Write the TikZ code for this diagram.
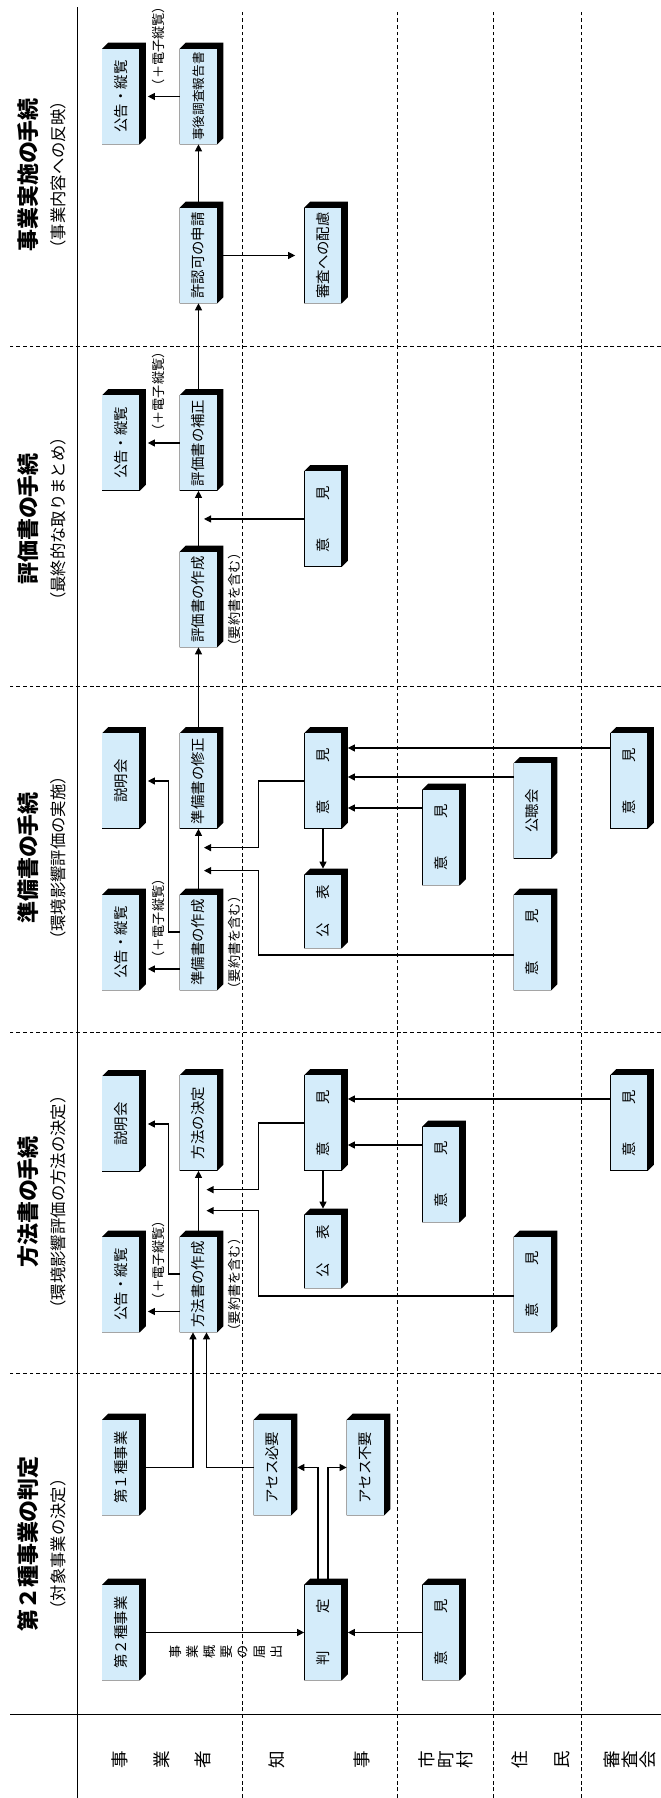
\documentclass[tikz,border=0pt]{standalone}
\usepackage{fontspec}
\setmainfont{Noto Sans CJK JP}
\usetikzlibrary{arrows.meta,backgrounds,calc}
\definecolor{azulcaixa}{RGB}{212,236,250}
\tikzset{
	caixa/.style={fill=azulcaixa, minimum width=1.9cm, minimum height=0.74cm, inner sep=0pt, font=\fontsize{8.2}{9}\selectfont},
	caixacurta/.style={caixa, minimum width=1.46cm},
	linha/.style={line width=0.6pt},
	tracejada/.style={line width=0.5pt, dash pattern=on 2.2pt off 1.6pt},
	seta/.style={->, line width=0.6pt},
	titulo/.style={font=\bfseries\fontsize{12.5}{14}\selectfont, inner sep=0pt},
	subtitulo/.style={font=\fontsize{9.3}{11}\selectfont, inner sep=0pt},
	nota/.style={font=\fontsize{7.5}{8}\selectfont, inner sep=0pt},
	raia/.style={align=center, inner sep=0pt}
}
\begin{document}
\begin{tikzpicture}[x=0.02cm, y=0.02cm, rotate=90, transform shape, >={Triangle[length=4pt,width=4pt]}] %Desenho deitado e girado
	\useasboundingbox (0,0) rectangle (1798,661);
		%Raias e etapas
	\draw[linha] (0,583.7) -- (1791,583.7);
	\foreach \y in {419,263.5,168,80} \draw[tracejada] (0,\y) -- (1789,\y);
	\draw[linha] (83.5,0) -- (83.5,651);
	\foreach \x in {425,766,1112,1452} \draw[tracejada] (\x,0) -- (\x,651);
		%Nomes das raias
	\node[raia, font=\fontsize{10}{23.5}\selectfont] (jigyosha) at (38,499.5) {事\\業\\者};
	\node[raia, font=\fontsize{10}{48}\selectfont] (chiji) at (38,341.5) {知\\事};
	\node[raia, font=\fontsize{10}{10.8}\selectfont] (shichoson) at (38,215) {市\\町\\村};
	\node[raia, font=\fontsize{10}{23.8}\selectfont] (jumin) at (38,120) {住\\民};
	\node[raia, font=\fontsize{10}{10.2}\selectfont] (shinsakai) at (38,31) {審\\査\\会};
		%Títulos
	\node[titulo] (t1) at (254,632.5) {第２種事業の判定};
	\node[subtitulo] (s1) at (254,603) {（対象事業の決定）};
	\node[titulo] (t2) at (596,632.5) {方法書の手続};
	\node[subtitulo] (s2) at (596,603) {（環境影響評価の方法の決定）};
	\node[titulo] (t3) at (940,632.5) {準備書の手続};
	\node[subtitulo] (s3) at (940,603) {（環境影響評価の実施）};
	\node[titulo] (t4) at (1279,632.5) {評価書の手続};
	\node[subtitulo] (s4) at (1279,603) {（最終的な取りまとめ）};
	\node[titulo] (t5) at (1623,632.5) {事業実施の手続};
	\node[subtitulo] (s5) at (1623,603) {（事業内容への反映）};
		%Caixas - 第２種事業の判定
	\node[caixa] (dai2) at (165.5,540) {第２種事業};
	\node[caixa] (hantei) at (165.5,338) {判\hspace{2.6em}定};
	\node[caixa] (ikenS1) at (165.5,220) {意\hspace{2.6em}見};
	\node[caixa] (dai1) at (330.5,540) {第１種事業};
	\node[caixa] (hitsuyo) at (330.5,388.5) {アセス必要};
	\node[caixa] (fuyo) at (330.5,295.5) {アセス不要};
		%Caixas - 方法書
	\node[caixa] (koku2) at (513.5,540) {公告・縦覧};
	\node[caixa] (hsakusei) at (513.5,462.5) {方法書の作成};
	\node[caixa] (setsu2) at (674,540) {説明会};
	\node[caixa] (hkettei) at (675,462.5) {方法の決定};
	\node[caixa] (ikenC2) at (675,338) {意\hspace{2.6em}見};
	\node[caixacurta] (kohyo2) at (546.5,338) {公\hspace{1.6em}表};
	\node[caixa] (ikenS2) at (623.5,220) {意\hspace{2.6em}見};
	\node[caixa] (ikenJ2) at (513.5,128.5) {意\hspace{2.6em}見};
	\node[caixa] (ikenK2) at (675,32) {意\hspace{2.6em}見};
		%Caixas - 準備書
	\node[caixa] (koku3) at (855.5,540) {公告・縦覧};
	\node[caixa] (jsakusei) at (855.5,462.5) {準備書の作成};
	\node[caixa] (setsu3) at (1017,540) {説明会};
	\node[caixa] (jshusei) at (1017,462.5) {準備書の修正};
	\node[caixa] (ikenC3) at (1017,338) {意\hspace{2.6em}見};
	\node[caixacurta] (kohyo3) at (886.5,338) {公\hspace{1.6em}表};
	\node[caixa] (ikenS3) at (960.5,220) {意\hspace{2.6em}見};
	\node[caixa] (kochokai) at (987,128.5) {公聴会};
	\node[caixa] (ikenJ3) at (855.5,128.5) {意\hspace{2.6em}見};
	\node[caixa] (ikenK3) at (1017,32) {意\hspace{2.6em}見};
		%Caixas - 評価書
	\node[caixa] (ysakusei) at (1198.5,462.5) {評価書の作成};
	\node[caixa] (hosei) at (1355,462.5) {評価書の補正};
	\node[caixa] (koku4) at (1355,540) {公告・縦覧};
	\node[caixa] (ikenC4) at (1279,338) {意\hspace{2.6em}見};
		%Caixas - 事業実施
	\node[caixa] (shinsei) at (1542.5,462.5) {許認可の申請};
	\node[caixa] (hairyo) at (1542.5,338) {審査への配慮};
	\node[caixa, font=\fontsize{7.2}{8}\selectfont] (jigo) at (1701.5,462.5) {事後調査報告書};
	\node[caixa] (koku5) at (1701.5,540) {公告・縦覧};
		%Sombras das caixas
	\begin{scope}[on background layer]
		\foreach \n in {dai2,hantei,ikenS1,dai1,hitsuyo,fuyo,koku2,hsakusei,setsu2,hkettei,ikenC2,kohyo2,ikenS2,ikenJ2,ikenK2,koku3,jsakusei,setsu3,jshusei,ikenC3,kohyo3,ikenS3,kochokai,ikenJ3,ikenK3,ysakusei,hosei,koku4,ikenC4,shinsei,hairyo,jigo,koku5}
			\fill (\n.north west) -- (\n.north east) -- ($(\n.north east)+(6,-6)$) -- ($(\n.south east)+(6,-6)$) -- ($(\n.south west)+(6,-6)$) -- (\n.south west) -- cycle;
	\end{scope}
		%Notas
	\node[raia, font=\fontsize{7.5}{9.6}\selectfont] (todokede) at (146,435) {事\\業\\概\\要\\の\\届\\出};
	\node[nota] (denshi2) at (538,503) {（＋電子縦覧）};
	\node[nota] (denshi3) at (879.5,503) {（＋電子縦覧）};
	\node[nota] (denshi4) at (1406.5,503) {（＋電子縦覧）};
	\node[nota] (denshi5) at (1752,503) {（＋電子縦覧）};
	\node[nota] (yoyaku2) at (513.5,427) {（要約書を含む）};
	\node[nota] (yoyaku3) at (855.5,427) {（要約書を含む）};
	\node[nota] (yoyaku4) at (1198.5,427) {（要約書を含む）};
		%Setas - 第２種事業の判定
	\draw[seta] (dai2.south) -- (hantei.north);
	\draw[seta] (ikenS1.north) -- ($(hantei.south)+(0,-6)$);
	\draw[seta] ($(hantei.east)+(0,5)$) -| ($(hitsuyo.south)+(0,-6)$);
	\draw[seta] ($(hantei.east)+(0,-5)$) -| (fuyo.north);
	\draw[seta] (dai1.south) |- ($(hsakusei.west)+(0,5.5)$);
	\draw[seta] (hitsuyo.north) |- ($(hsakusei.west)+(0,-8)$);
		%Setas - 方法書
	\draw[seta] ($(hsakusei.north)+(-27,0)$) -- ($(koku2.south)+(-27,-8)$);
	\draw[seta] ($(hsakusei.north)+(10.5,0)$) -- ++(0,11) -| ($(setsu2.south)+(0,-8)$);
	\draw[seta] (hsakusei.east) -- (hkettei.west);
	\draw[seta] (ikenC2.north) -- ++(0,45.5) -| ($(hsakusei.east)+(47,-8)$);
	\draw[seta] ($(ikenJ2.north)+(-11.5,0)$) -- ++(0,255) -| ($(hsakusei.east)+(26,-8)$);
	\draw[seta] (ikenC2.west) -- ($(kohyo2.east)+(6,0)$);
	\draw[seta] ($(ikenS2.north)+(29.5,0)$) -- ($(ikenS2.north |- ikenC2.south)+(29.5,-6)$);
	\draw[seta] ($(ikenK2.north)+(24,0)$) -- ($(ikenK2.north |- ikenC2.south)+(24,-6)$);
		%Setas - 準備書
	\draw[seta] ($(jsakusei.north)+(-26.5,0)$) -- ($(koku3.south)+(-26.5,-8)$);
	\draw[seta] ($(jsakusei.north)+(10.5,0)$) -- ++(0,11) -| ($(setsu3.south)+(0,-8)$);
	\draw[seta] (jsakusei.east) -- (jshusei.west);
	\draw[seta] (ikenC3.north) -- ++(0,45.5) -| ($(jsakusei.east)+(47,-5.5)$);
	\draw[seta] ($(ikenJ3.north)+(-12.5,0)$) -- ++(0,255) -| ($(jsakusei.east)+(24,-5.5)$);
	\draw[seta] (ikenC3.west) -- ($(kohyo3.east)+(6,0)$);
	\draw[seta] ($(ikenS3.north)+(29.5,0)$) -- ($(ikenS3.north |- ikenC3.south)+(29.5,-6)$);
	\draw[seta] ($(kochokai.north)+(34,0)$) -- ($(kochokai.north |- ikenC3.south)+(34,-6)$);
	\draw[seta] ($(ikenK3.north)+(33,0)$) -- ($(ikenK3.north |- ikenC3.south)+(33,-6)$);
	\draw[seta] (jshusei.east) -- (ysakusei.west);
		%Setas - 評価書
	\draw[seta] (ysakusei.east) -- (hosei.west);
	\draw[seta] (ikenC4.north) -- ($(ikenC4.north |- ysakusei.center)+(0,-5.5)$);
	\draw[seta] (hosei.north) -- ($(koku4.south)+(0,-8)$);
	\draw[seta] (hosei.east) -- (shinsei.west);
		%Setas - 事業実施
	\draw[seta] (shinsei.east) -- (jigo.west);
	\draw[seta] (shinsei.south) -- ($(hairyo.north)+(0,9)$);
	\draw[seta] (jigo.north) -- ($(koku5.south)+(0,-8)$);
\end{tikzpicture}
\end{document}
